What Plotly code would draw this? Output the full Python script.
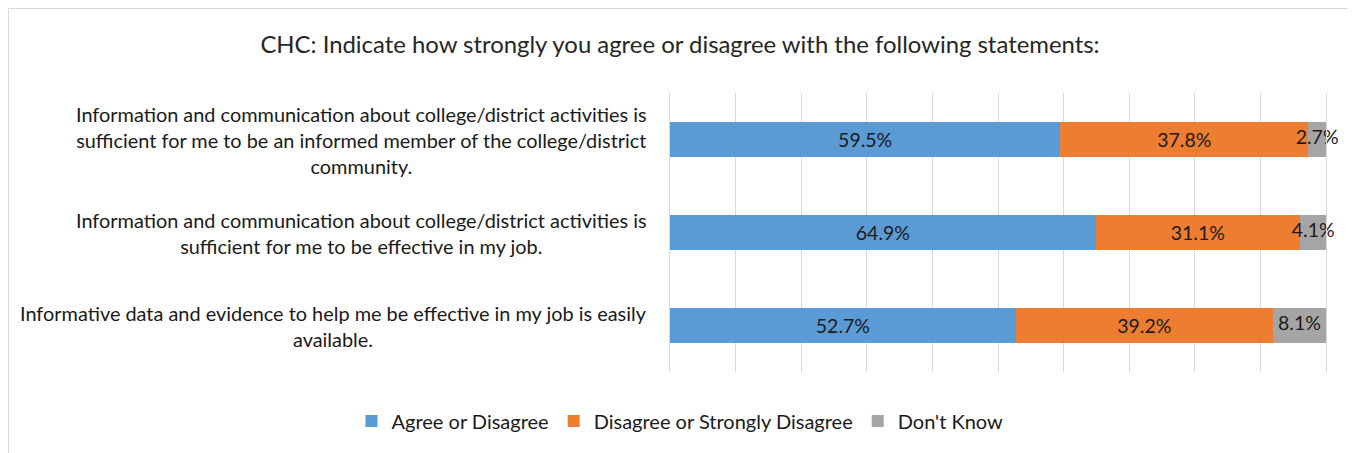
import plotly.graph_objects as go

categories = [
    "Information and communication about college/district activities is<br>sufficient for me to be an informed member of the college/district<br>community.",
    "Information and communication about college/district activities is<br>sufficient for me to be effective in my job.",
    "Informative data and evidence to help me be effective in my job is easily<br>available.",
]
series_names = ["Agree or Disagree", "Disagree or Strongly Disagree", "Don't Know"]
agree = [59.5, 64.9, 52.7]
disagree = [37.8, 31.1, 39.2]
dont_know = [2.7, 4.1, 8.1]
colors = ["#5B9BD5", "#ED7D31", "#A5A5A5"]

# page body has an 8px offset; figure is sized to fill the remaining window
W, H = 1348, 445
L, R, T, B = 662, 30, 85, 81
FONT = "Lato, 'Open Sans', sans-serif"
TXT = "#1a1a1a"

ypos = list(range(len(categories)))
fig = go.Figure()
for name, vals, col in zip(series_names, [agree, disagree, dont_know], colors):
    is_last = name == series_names[-1]
    fig.add_trace(go.Bar(
        y=ypos, x=vals, name=name, orientation="h",
        marker=dict(color=col, line=dict(width=0)),
        text=None if is_last else [f"{v:.1f}%" for v in vals],
        textposition="inside", insidetextanchor="middle", constraintext="none",
        textangle=0,
        textfont=dict(family=FONT, size=19.5, color=TXT),
        hoverinfo="x+name",
    ))

# labels for the narrow last segment, centred on the segment (may overflow it)
mid_last = [a + d + k / 2 for a, d, k in zip(agree, disagree, dont_know)]
fig.add_trace(go.Scatter(
    x=mid_last, y=ypos, mode="text", text=[f"{v:.1f}%" for v in dont_know],
    textposition="middle center", textfont=dict(family=FONT, size=19.5, color=TXT),
    showlegend=False, hoverinfo="skip", cliponaxis=False,
))

pw = W - L - R
ph = H - T - B
for i, c in enumerate(categories):
    fig.add_annotation(
        x=(641 - L) / pw, xref="paper", y=i, yref="y",
        text=c, showarrow=False, xanchor="right", yanchor="middle",
        align="center", font=dict(family=FONT, size=19.9, color=TXT),
    )

# chart border
fig.add_shape(type="rect", xref="paper", yref="paper",
              x0=(0.5 - L) / pw, x1=(1345 - L) / pw,
              y0=-(H + 20 - (H - B)) / ph, y1=1 + (T - 0.5) / ph,
              line=dict(color="#D9D9D9", width=1), fillcolor="rgba(0,0,0,0)", layer="below")

fig.update_layout(
    width=W, height=H,
    margin=dict(l=L, r=R, t=T, b=B),
    barmode="stack", bargap=0.634,
    plot_bgcolor="white", paper_bgcolor="white",
    title=dict(text="CHC: Indicate how strongly you agree or disagree with the following statements:",
               x=672 / W, xref="container", xanchor="center",
               y=1 - 37 / H, yref="container", yanchor="middle",
               font=dict(family=FONT, size=23.9, color="#262626")),
    xaxis=dict(range=[0, 100], dtick=10, showgrid=True, gridcolor="#D9D9D9", gridwidth=1,
               showticklabels=False, zeroline=False, showline=False, ticks=""),
    yaxis=dict(range=[2.5, -0.5], showticklabels=False, showgrid=False, zeroline=False, ticks="",
               showline=True, linecolor="#D9D9D9", linewidth=1, mirror=True),
    legend=dict(orientation="h", xref="container", yref="container",
                x=672 / W, xanchor="center", y=(H - 413) / H, yanchor="middle",
                font=dict(family=FONT, size=20, color=TXT),
                itemwidth=30, traceorder="normal"),
    showlegend=True,
)

fig.write_html("out.html")
